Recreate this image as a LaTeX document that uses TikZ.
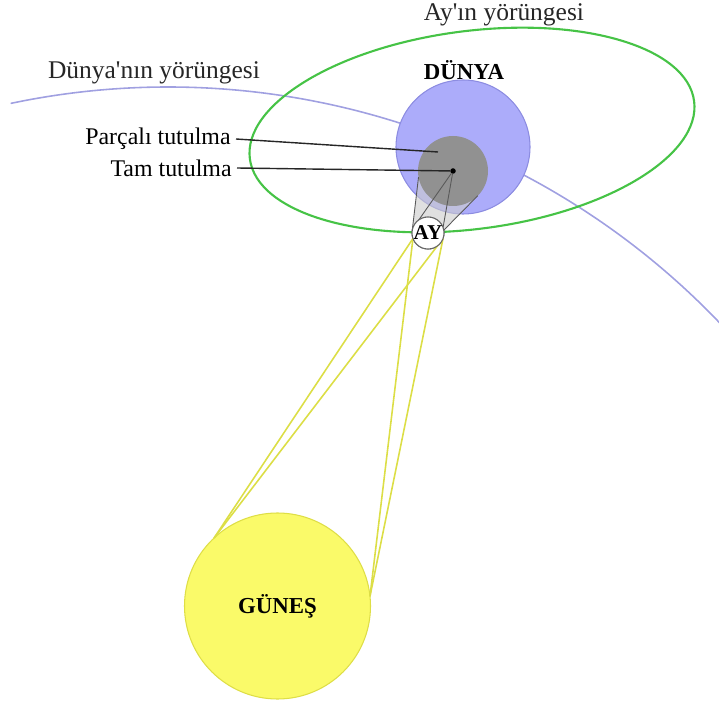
\documentclass[tikz,border=0pt]{standalone}
\usepackage{fontspec}
\setmainfont{Liberation Serif}
\usetikzlibrary{positioning}

\definecolor{earthblue}{RGB}{172, 172, 250}
\definecolor{earthedge}{RGB}{140, 140, 225}
\definecolor{umbragray}{RGB}{145, 145, 145}
\definecolor{sunyellow}{RGB}{250, 250, 105}
\definecolor{sunedge}{RGB}{222, 222, 70}
\definecolor{raysyellow}{RGB}{220, 222, 70}
\definecolor{orbitgreen}{RGB}{70, 195, 70}
\definecolor{orbitlilac}{RGB}{160, 160, 225}

\tikzset{
    body/.style={draw, circle, inner sep=0pt, outer sep=0pt, font=\bfseries},
    sunbody/.style={body, fill=sunyellow, draw=sunedge, line width=0.6pt, minimum size=3.72cm, font=\fontsize{13}{15}\selectfont\bfseries},
    earthbody/.style={body, fill=earthblue, draw=earthedge, line width=0.6pt, minimum size=2.68cm},
    umbrabody/.style={body, fill=umbragray, draw=none, minimum size=1.40cm},
    moonbody/.style={body, fill=white, draw=gray!80!black, line width=0.6pt, minimum size=0.64cm, font=\fontsize{12}{14}\selectfont\bfseries},
    centerdot/.style={circle, fill=black, inner sep=0pt, minimum size=0.11cm},
    ray/.style={draw=raysyellow, line width=0.9pt},
    shadowline/.style={draw=gray!70!black, line width=0.5pt},
    penumbra/.style={fill=gray!40, opacity=0.6},
    pointer/.style={draw=black!85, line width=0.8pt},
    orbitlabel/.style={font=\fontsize{14.5}{17}\selectfont, text=black!85},
    bodylabel/.style={font=\fontsize{13}{15}\selectfont\bfseries},
    eclipselabel/.style={font=\fontsize{13.6}{16}\selectfont, anchor=east, inner sep=0.1cm},
}

\begin{document}
\begin{tikzpicture}
    \useasboundingbox (0,0) rectangle (14.38,14.14);
    \clip (0,0) rectangle (14.38,14.14);

    % Orbits
    \coordinate (sunc) at (3.36,-2.86);
    \coordinate (orbc) at (9.44,11.54);
    \draw[orbitlilac, line width=0.9pt] (sunc) ++(101.9:15.26) arc[start angle=101.9, end angle=40, radius=15.26];
    \draw[orbitgreen, line width=1.2pt, rotate around={7.4:(orbc)}] (orbc) ellipse (4.48 and 1.98);
    \node[orbitlabel] (earthorbit) at (3.08,12.68) {Dünya\textquotesingle nın yörüngesi};
    \node[orbitlabel] (moonorbit) at (10.08,13.84) {Ay\textquotesingle ın yörüngesi};

    % Earth and its shadow
    \node[earthbody] (earth) at (9.26,11.20) {};
    \node[bodylabel] (earthname) at (9.28,12.74) {DÜNYA};
    \node[moonbody] (moon) at (8.56,9.48) {AY};
    \fill[penumbra] (moon.170) -- (8.37,10.60) -- (9.56,10.22) -- (moon.10) -- cycle;
    \node[umbrabody] (umbra) at (9.06,10.72) {};
    \node[centerdot] (mid) at (umbra.center) {};
    \draw[shadowline] (moon.170) -- (umbra.190);
    \draw[shadowline] (moon.10) -- (umbra.-45);
    \draw[shadowline] (moon.165) -- (mid);
    \draw[shadowline] (moon.20) -- (mid);

    % Sun and its rays
    \node[sunbody] (sun) at (5.55,2.02) {GÜNEŞ};
    \draw[ray] (sun.133) -- (moon.200);
    \draw[ray] (sun.133) -- (moon.-20);
    \draw[ray] (sun.6) -- (moon.200);
    \draw[ray] (sun.6) -- (moon.-20);
    \node[moonbody] at (moon) {AY};

    % Eclipse zones
    \coordinate (partial) at (8.76,11.10);
    \node[eclipselabel] (partname) at (4.72,11.36) {Parçalı tutulma};
    \node[eclipselabel] (totalname) at (4.74,10.78) {Tam tutulma};
    \draw[pointer] (partname.east) -- (partial);
    \draw[pointer] (totalname.east) -- (mid);
\end{tikzpicture}
\end{document}
